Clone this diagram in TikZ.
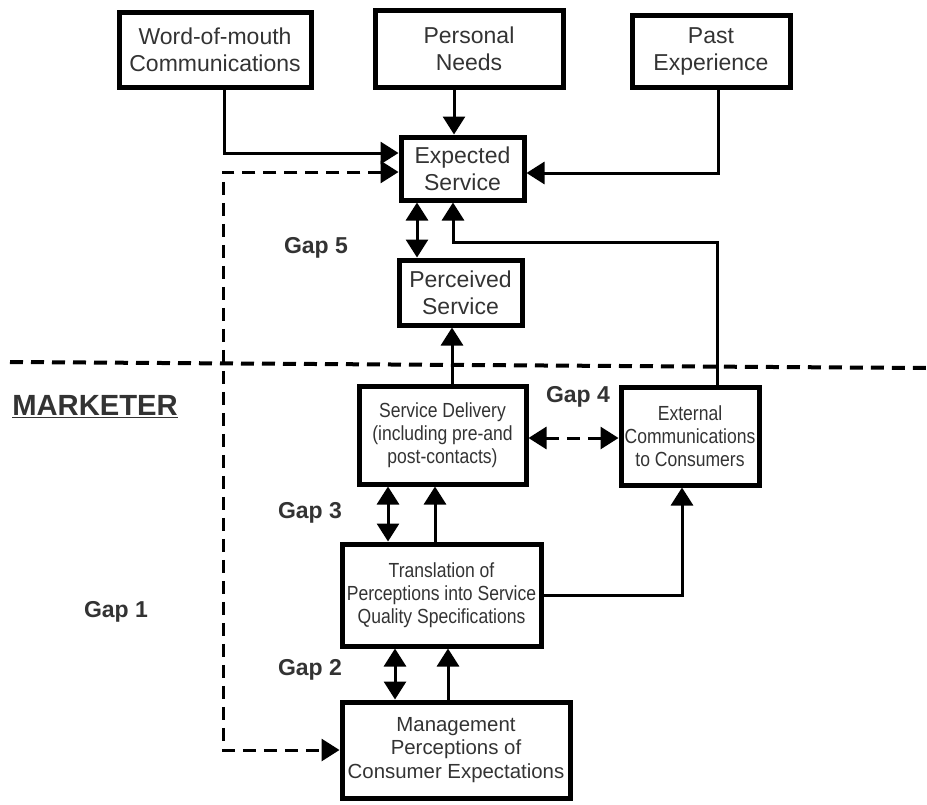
\documentclass[tikz,border=0pt]{standalone}
\usepackage{fontspec}
\setmainfont{Liberation Sans}
\newfontfamily\narrowsans[FakeStretch=0.86]{Liberation Sans}
\usepackage{tikz}
\usetikzlibrary{arrows.meta, positioning, calc}
\definecolor{ink}{gray}{0.2}

\begin{document}
\begin{tikzpicture}[x=0.5pt, y=-0.5pt,
	box/.style={draw, line width=2.5pt, inner sep=0pt, align=center, text=ink},
	topbox/.style={box, font=\fontsize{11.5}{13.5}\selectfont},
	lowbox/.style={box, font=\narrowsans\fontsize{10.2}{11.5}\selectfont},
	arr/.style={line width=1.5pt, -{Triangle[length=9pt,width=11pt]}},
	dbl/.style={line width=1.5pt, {Triangle[length=9pt,width=11pt]}-{Triangle[length=9pt,width=11pt]}},
	dsh/.style={line width=2pt, dash pattern=on 6.5pt off 4pt},
	gap/.style={font=\bfseries\fontsize{11.5}{13}\selectfont, text=ink}]
	\useasboundingbox (0,0) rectangle (927,804);
	\node[topbox, minimum width=96pt, minimum height=37.5pt] (wom) at (215,49.5) {Word-of-mouth\\Communications};
	\node[topbox, minimum width=94pt, minimum height=38.5pt] (needs) at (469,48.5) {Personal\\Needs};
	\node[topbox, minimum width=79pt, minimum height=36pt] (past) at (711,51) {Past\\Experience};
	\node[topbox, minimum width=61.5pt, minimum height=31.5pt] (expected) at (462.5,168.5) {Expected\\Service};
	\node[topbox, minimum width=61.5pt, minimum height=32.5pt] (perceived) at (460.5,292.5) {Perceived\\Service};
	\node[lowbox, minimum width=83.5pt, minimum height=49pt] (delivery) at (442.5,435) {Service Delivery\\(including pre-and\\post-contacts)};
	\node[lowbox, minimum width=69pt, minimum height=49pt] (external) at (690,436) {External\\Communications\\to Consumers};
	\node[lowbox, minimum width=99.5pt, minimum height=51pt] (translation) at (441.5,595) {Translation of\\Perceptions into Service\\Quality Specifications};
	\node[box, font=\fontsize{10.2}{11.8}\selectfont, minimum width=114pt, minimum height=48pt] (management) at (456,750) {Management\\Perceptions of\\Consumer Expectations};
	\node[gap] (gap5) at (316,248) {Gap 5};
	\node[gap] (gap4) at (578,397) {Gap 4};
	\node[gap] (gap3) at (310,513) {Gap 3};
	\node[gap] (gap2) at (310,670) {Gap 2};
	\node[gap] (gap1) at (116,612) {Gap 1};
	\node[font=\bfseries\fontsize{14.6}{16}\selectfont, text=ink] (marketer) at (95,407) {\underline{MARKETER}};
	\coordinate (sepL) at (10,362);
	\coordinate (sepR) at (927,368);
	\coordinate (gapturn) at (223,750);
	\draw[dsh] (sepL) -- (sepR);
	\draw[arr] ([xshift=4.5pt]wom.south) |- ([yshift=7.75pt]expected.west);
	\draw[arr] ([xshift=-4.25pt]expected.north |- needs.south) -- ([xshift=-4.25pt]expected.north);
	\draw[arr] ([xshift=3.5pt]past.south) |- ([yshift=-2.25pt]expected.east);
	\draw[dsh, dbl] ([yshift=-1.75pt]expected.west) -| (gapturn) |- (management.west);
	\draw[dbl] ([xshift=-22.75pt]expected.south) -- ([xshift=-22.75pt]expected.south |- perceived.north);
	\draw[arr] ([xshift=13.5pt]external.north) -- ++(0,-142) -| ([xshift=-4.75pt]expected.south);
	\draw[arr] ([xshift=4.75pt]delivery.north) -- ([xshift=4.75pt]delivery.north |- perceived.south);
	\draw[dsh, dbl] ([yshift=-1.5pt]delivery.east) -- ([yshift=-1.5pt]delivery.east -| external.west);
	\draw[dbl] ([xshift=-27.25pt]delivery.south) -- ([xshift=-27.25pt]delivery.south |- translation.north);
	\draw[arr] ([xshift=-3.75pt]delivery.south |- translation.north) -- ([xshift=-3.75pt]delivery.south);
	\draw[arr] (translation.east) -| ([xshift=-4pt]external.south);
	\draw[dbl] ([xshift=-30.5pt]management.north) -- ([xshift=-30.5pt]management.north |- translation.south);
	\draw[arr] ([xshift=-4pt]management.north) -- ([xshift=-4pt]management.north |- translation.south);
\end{tikzpicture}
\end{document}
